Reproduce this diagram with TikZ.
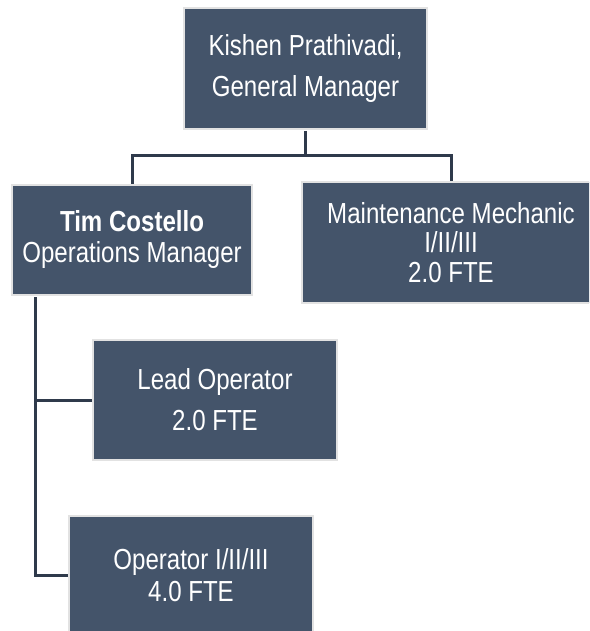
\documentclass[tikz,border=0pt]{standalone}
\usepackage{fontspec}
\setmainfont{Liberation Sans}[FakeStretch=0.83]
\definecolor{boxfill}{HTML}{44546A}
\definecolor{boxedge}{HTML}{E2E2E2}
\definecolor{linecol}{HTML}{2F3A4B}
\tikzset{
  orgbox/.style={rectangle, fill=boxfill, draw=boxedge, line width=2pt, text=white, align=center, inner sep=0pt},
  conn/.style={draw=linecol, line width=3pt}
}
\begin{document}
\begin{tikzpicture}[x=1pt,y=1pt]
\useasboundingbox (0,0) rectangle (589,-631);
\clip (0,0) rectangle (589,-631);
\node[orgbox, minimum width=243pt, minimum height=121pt, font={\fontsize{29}{41}\selectfont}] (gm) at (305.5,-68.5) {Kishen Prathivadi,\\General Manager};
\node[orgbox, minimum width=240pt, minimum height=110pt, font={\fontsize{29}{31}\selectfont}] (tim) at (132,-240) {\textbf{Tim Costello}\\Operations Manager};
\node[orgbox, minimum width=298pt, minimum height=121pt, font={\fontsize{29}{29.5}\selectfont}] (mm) at (451,-242.5) {Maintenance Mechanic\\I/II/III\\2.0 FTE};
\node[orgbox, minimum width=244pt, minimum height=120pt, font={\fontsize{29}{41}\selectfont}] (lead) at (215,-400) {Lead Operator\\2.0 FTE};
\node[orgbox, minimum width=244pt, minimum height=118pt, font={\fontsize{29}{32}\selectfont}] (op) at (191,-575) {Operator I/II/III\\4.0 FTE};
\coordinate (bus) at ([yshift=-26pt]gm.south);
\draw[conn] ([yshift=-1pt]gm.south) -- (bus) -| (tim.north);
\draw[conn] (bus) -| (mm.north);
\coordinate (timleg) at ([xshift=-97pt,yshift=-1pt]tim.south);
\draw[conn] (timleg) |- (lead.west);
\draw[conn] (timleg) |- (op.west);
\end{tikzpicture}
\end{document}
